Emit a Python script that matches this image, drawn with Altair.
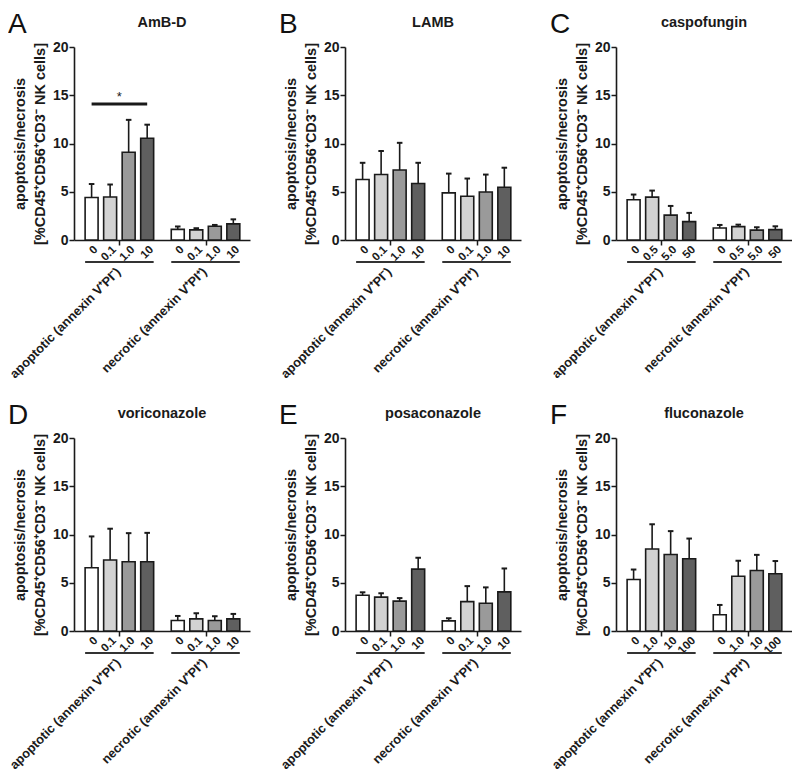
import altair as alt
import pandas as pd

# ---------------- data ----------------
panel_letters = ["A", "B", "C", "D", "E", "F"]
drug_titles = ["AmB-D", "LAMB", "caspofungin", "voriconazole", "posaconazole", "fluconazole"]
conc_labels = [
    ["0", "0.1", "1.0", "10"],
    ["0", "0.1", "1.0", "10"],
    ["0", "0.5", "5.0", "50"],
    ["0", "0.1", "1.0", "10"],
    ["0", "0.1", "1.0", "10"],
    ["0", "1.0", "10", "100"],
]
group_names = ["apoptotic (annexin V\u207aPI\u207b)", "necrotic (annexin V\u207aPI\u207a)"]

apoptotic_mean = [
    [4.40, 4.45, 9.10, 10.55],
    [6.27, 6.78, 7.25, 5.86],
    [4.17, 4.44, 2.58, 1.90],
    [6.56, 7.35, 7.18, 7.18],
    [3.71, 3.51, 3.10, 6.41],
    [5.33, 8.50, 7.93, 7.49],
]
apoptotic_sd = [
    [1.40, 1.30, 3.35, 1.40],
    [1.73, 2.44, 2.82, 2.14],
    [0.54, 0.68, 0.95, 0.91],
    [3.24, 3.25, 2.96, 2.99],
    [0.30, 0.40, 0.31, 1.18],
    [1.04, 2.56, 2.42, 2.09],
]
necrotic_mean = [
    [1.10, 1.05, 1.43, 1.67],
    [4.88, 4.54, 4.98, 5.46],
    [1.25, 1.39, 1.02, 1.08],
    [1.09, 1.26, 1.09, 1.26],
    [1.05, 3.04, 2.87, 4.05],
    [1.69, 5.67, 6.27, 5.94],
]
necrotic_sd = [
    [0.30, 0.17, 0.13, 0.47],
    [2.00, 1.83, 1.80, 2.03],
    [0.31, 0.20, 0.30, 0.34],
    [0.47, 0.58, 0.44, 0.51],
    [0.27, 1.61, 1.65, 2.43],
    [1.01, 1.61, 1.62, 1.31],
]
bar_fills = ["#ffffff", "#d2d2d2", "#9a9a9a", "#5f5f5f"]

# significance bracket (panel A, apoptotic 0 vs 10)
sig_panel = 0
sig_from, sig_to = 0, 3
sig_level = 14.1
sig_text = "*"

y_title = ["apoptosis/necrosis", "[%CD45\u207aCD56\u207aCD3\u207b  NK cells]"]

# ---------------- layout ----------------
W, H = 176, 193
X_MAX = 9.5
FIRST = 0.95
GROUP_SHIFT = 4.65
BAR_W = 0.7
INK = "#1a1a1a"


def make_panel(i):
    rows = []
    groups = [(apoptotic_mean[i], apoptotic_sd[i]), (necrotic_mean[i], necrotic_sd[i])]
    for g, (means, sds) in enumerate(groups):
        for k in range(4):
            pos = FIRST + k + g * GROUP_SHIFT
            rows.append(dict(
                group=group_names[g], k=k, pos=pos,
                x0=pos - BAR_W / 2, x1=pos + BAR_W / 2,
                cl=pos - 0.15, cr=pos + 0.15, lab_x=pos + 0.25,
                mean=means[k], upper=means[k] + sds[k],
                label=conc_labels[i][k], fill=bar_fills[k],
            ))
    df = pd.DataFrame(rows)
    gdf = df.groupby("group", sort=False).agg(
        xl=("x0", "min"), xr=("x1", "max"), c=("pos", "mean")).reset_index()
    gdf["lab_x"] = gdf["c"] - 0.05

    xs = alt.Scale(domain=[0, X_MAX], nice=False, zero=False)
    ys = alt.Scale(domain=[0, 20], nice=False)

    base = alt.Chart(df)
    bars = base.mark_bar(stroke=INK, strokeWidth=1.6).encode(
        x=alt.X("x0:Q", scale=xs, axis=alt.Axis(
            values=list(gdf["c"]), labels=False, ticks=True, tickSize=5,
            tickWidth=1.5, tickColor=INK, domainColor=INK, domainWidth=1.6,
            grid=False, title="")),
        x2="x1:Q",
        y=alt.Y("mean:Q", scale=ys, axis=alt.Axis(
            values=[0, 5, 10, 15, 20], tickSize=5, tickWidth=1.5, tickColor=INK,
            domainColor=INK, domainWidth=1.6, grid=False,
            labelFontSize=14, labelFontWeight="bold", labelColor=INK, labelPadding=1,
            title=y_title, titleFontSize=14.5, titleFontWeight="bold",
            titleColor=INK, titleLineHeight=20, titlePadding=5)),
        y2=alt.datum(0),
        fill=alt.Fill("fill:N", scale=None),
    )
    err = base.mark_rule(strokeWidth=1.6, color=INK).encode(
        x=alt.X("pos:Q", scale=xs),
        y=alt.Y("mean:Q", scale=ys),
        y2="upper:Q",
    )
    cap = base.mark_rule(strokeWidth=2, color=INK).encode(
        x=alt.X("cl:Q", scale=xs), x2="cr:Q",
        y=alt.Y("upper:Q", scale=ys),
    )
    conc = base.mark_text(angle=315, align="right", baseline="middle", fontSize=11.5,
                          fontWeight="bold", color=INK).encode(
        x=alt.X("lab_x:Q", scale=xs),
        y=alt.value(H + 8),
        text="label:N",
    )
    gbase = alt.Chart(gdf)
    underline = gbase.mark_rule(strokeWidth=2, color="#333333").encode(
        x=alt.X("xl:Q", scale=xs), x2="xr:Q", y=alt.value(H + 22))
    glabel = gbase.mark_text(angle=315, align="right", baseline="middle", fontSize=12.8,
                             fontWeight="bold", color=INK).encode(
        x=alt.X("lab_x:Q", scale=xs), y=alt.value(H + 30), text="group:N")
    head = alt.Chart(pd.DataFrame({"t": [panel_letters[i]], "d": [drug_titles[i]]}))
    letter = head.mark_text(
        align="left", baseline="alphabetic", fontSize=28, fontWeight="normal",
        color="#111111").encode(x=alt.value(-66), y=alt.value(-14), text="t:N")
    title = head.mark_text(
        align="center", baseline="alphabetic", fontSize=14.5, fontWeight="bold",
        color=INK).encode(x=alt.value(W / 2), y=alt.value(-20), text="d:N")

    layers = [bars, err, cap, conc, underline, glabel, letter, title]

    if i == sig_panel:
        sdf = pd.DataFrame({
            "x1": [df["pos"][sig_from]], "x2": [df["pos"][sig_to]],
            "xm": [(df["pos"][sig_from] + df["pos"][sig_to]) / 2],
            "y": [sig_level], "t": [sig_text]})
        sb = alt.Chart(sdf)
        layers.append(sb.mark_rule(strokeWidth=3, color=INK).encode(
            x=alt.X("x1:Q", scale=xs), x2="x2:Q",
            y=alt.Y("y:Q", scale=ys)))
        layers.append(sb.mark_text(fontSize=13, color=INK, dy=-7).encode(
            x=alt.X("xm:Q", scale=xs),
            y=alt.Y("y:Q", scale=ys), text="t:N"))

    return alt.layer(*layers).properties(width=W, height=H)


chart = alt.concat(
    *[make_panel(i) for i in range(6)],
    columns=3,
    spacing=alt.RowColnumber(row=198, column=95),
    bounds="flush",
).properties(padding={"left": 0, "top": 3, "right": 0, "bottom": 0}).configure(
    font="Liberation Sans").configure_view(stroke=None)

chart.save("out.html", embed_options={"renderer": "svg", "actions": False})
